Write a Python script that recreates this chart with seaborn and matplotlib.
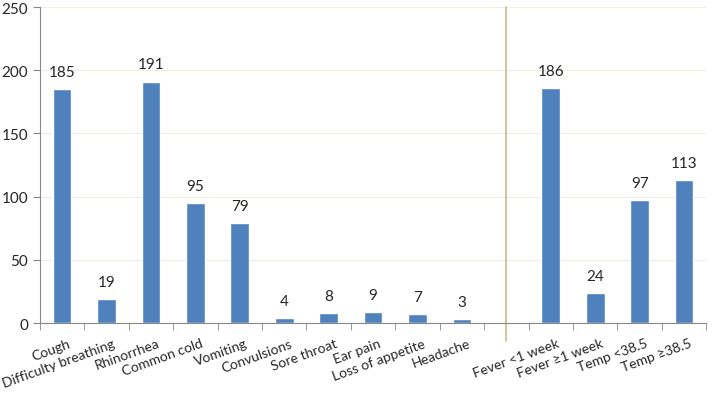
import seaborn as sns
import matplotlib.pyplot as plt
import matplotlib.transforms as mtransforms
import pandas as pd
import numpy as np

categories = ['Cough', 'Difficulty breathing', 'Rhinorrhea', 'Common cold', 'Vomiting',
              'Convulsions', 'Sore throat', 'Ear pain', 'Loss of appetite', 'Headache',
              ' ', 'Fever <1 week', 'Fever \u22651 week', 'Temp <38.5', 'Temp \u226538.5']
counts = [185, 19, 191, 95, 79, 4, 8, 9, 7, 3, np.nan, 186, 24, 97, 113]

df = pd.DataFrame({'symptom': categories, 'n': counts})

sns.set_style('white')
plt.rcParams['font.family'] = ['Lato', 'DejaVu Sans']

fig = plt.figure(figsize=(7.12, 4.02), dpi=100)
ax = fig.add_axes([0.056, 0.194, 0.936, 0.786])

sns.barplot(data=df, x='symptom', y='n', order=categories, color='#4F81BD',
            saturation=1, width=0.42, ax=ax)

# value labels
for i, v in enumerate(counts):
    if not np.isnan(v):
        ax.text(i, v + 8, f'{int(v)}', ha='center', va='bottom', fontsize=11)

ax.set_ylim(0, 250)
ax.set_xlim(-0.5, len(categories) - 0.5)
ax.set_yticks(range(0, 251, 50))
ax.yaxis.grid(True, color='#EDEDE0', linewidth=0.8)
ax.set_axisbelow(True)

# separator between symptoms and fever groups
ax.axvline(10, ymin=-0.057, ymax=1, color='#C9B98E', linewidth=1.2, clip_on=False)

ax.set_xticks(range(len(categories)))
ax.set_xticklabels(categories, rotation=20, ha='right', rotation_mode='anchor', fontsize=10)
ax.set_xticks(np.arange(-0.5, len(categories), 1), minor=True)
ax.tick_params(axis='x', which='major', length=0, pad=10)
ax.tick_params(axis='x', which='minor', length=5, color='#888888', direction='out', bottom=True)
ax.tick_params(axis='y', length=5, color='#888888', direction='out', left=True, labelsize=11)

# nudge rotated labels a little to the right
shift = mtransforms.ScaledTranslation(4 / 72, 0, fig.dpi_scale_trans)
for lab in ax.get_xticklabels():
    lab.set_transform(lab.get_transform() + shift)

ax.set_xlabel('')
ax.set_ylabel('')
for s in ['top', 'right']:
    ax.spines[s].set_visible(False)
ax.spines['left'].set_color('#888888')
ax.spines['bottom'].set_color('#888888')

fig.savefig('out.png', dpi=100)
